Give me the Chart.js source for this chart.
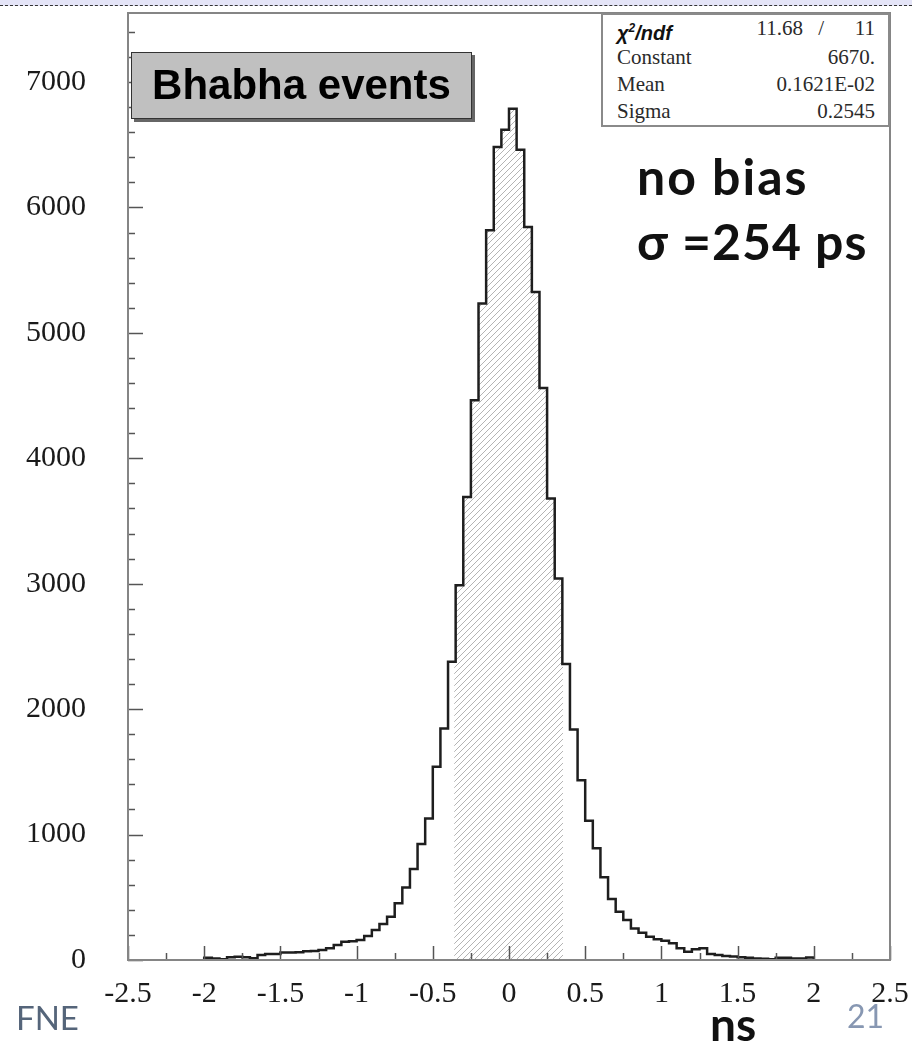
<!DOCTYPE html>
<html>
<head>
<meta charset="utf-8">
<script src="https://cdn.jsdelivr.net/npm/chart.js@4.4.1/dist/chart.umd.min.js"></script>
<style>
  html, body { margin: 0; padding: 0; background: #fff; }
  #wrap { position: relative; width: 912px; height: 1047px; overflow: hidden; }
  #plot { position: absolute; left: 0; top: 0; }
  .topband { position: absolute; left: 0; top: 0; width: 912px; height: 5px; background: #e4e4f7; border-bottom: 1.5px dashed #333; }
  .stats { position: absolute; left: 601px; top: 13px; width: 289px; height: 114px; box-sizing: border-box;
           background: #fff; border: 2px solid #8a8a8a; font-family: 'Liberation Serif', serif; font-size: 21px; color: #2a2a2a; }
  .stats .row { position: absolute; left: 14px; right: 13px; height: 24px; line-height: 24px; }
  .stats .lab { position: absolute; left: 0; }
  .stats .val { position: absolute; right: 0; }
  .stats .chi { font-family: 'Liberation Sans', sans-serif; font-weight: bold; font-style: italic; font-size: 20px; color: #111; }
  .stats .chi sup { font-size: 12px; }
  .bhabha { position: absolute; left: 131px; top: 52px; width: 341px; height: 67px; box-sizing: border-box;
            background: #c0c0c0; border: 1.5px solid #333; box-shadow: 3px 3px 0 #666;
            font-family: 'Liberation Sans', sans-serif; font-weight: bold; font-size: 42px; line-height: 64px; text-align: center; color: #000; }
  .note { position: absolute; font-family: Lato, sans-serif; font-weight: bold; line-height: 1; color: #111; white-space: nowrap; }
</style>
</head>
<body>
<div id="wrap">
  <canvas id="plot" width="912" height="1047"></canvas>
  <div class="topband"></div>
  <div class="stats">
    <div class="row" style="top:1px"><span class="lab chi">χ<sup>2</sup>/ndf</span>
      <span class="val" style="right:72px">11.68</span><span class="val" style="right:51px">/</span><span class="val">11</span></div>
    <div class="row" style="top:30px"><span class="lab">Constant</span><span class="val">6670.</span></div>
    <div class="row" style="top:57px"><span class="lab">Mean</span><span class="val">0.1621E-02</span></div>
    <div class="row" style="top:84px"><span class="lab">Sigma</span><span class="val">0.2545</span></div>
  </div>
  <div class="bhabha">Bhabha events</div>
  <div class="note" style="left:637px; top:151px; font-size:50px; letter-spacing:2px;">no bias</div>
  <div class="note" style="left:637px; top:216px; font-size:50px; letter-spacing:1px;">σ =254 ps</div>
  <div class="note" style="left:710px; top:1001px; font-size:46px;">ns</div>
  <div class="note" style="left:847px; top:1000px; font-size:32px; font-weight:normal; color:#8797b2;">21</div>
  <div class="note" style="left:16px; top:1001px; font-size:33px; font-weight:normal; color:#55657a;">FNE</div>
</div>
<script>
// histogram: bins of 0.05 ns from -2 to 2
const binStart = -2.0;
const binWidth = 0.05;
const counts = [
  17, 12, 5, 21, 26, 21, 14, 40, 48, 48,
  60, 60, 62, 70, 72, 80, 93, 120, 145, 150,
  160, 191, 239, 287, 345, 452, 579, 725, 924, 1129,
  1540, 1845, 2377, 2988, 3692, 4462, 5233, 5817, 6481, 6619,
  6786, 6460, 5843, 5325, 4560, 3679, 3041, 2359, 1838, 1434,
  1110, 890, 659, 486, 385, 319, 252, 218, 186, 165,
  154, 133, 93, 66, 85, 93, 48, 40, 32, 27,
  21, 17, 12, 10, 5, 17, 17, 12, 12, 20
];
// shaded fit range
const hatchFrom = -0.36;
const hatchTo = 0.355;

const xTickValues = [-2.5, -2, -1.5, -1, -0.5, 0, 0.5, 1, 1.5, 2, 2.5];
const xTickLabels = ['-2.5', '-2', '-1.5', '-1', '-0.5', '0', '0.5', '1', '1.5', '2', '2.5'];
const yTickValues = [0, 1000, 2000, 3000, 4000, 5000, 6000, 7000];
const yTickLabels = ['0', '1000', '2000', '3000', '4000', '5000', '6000', '7000'];
const xMin = -2.5, xMax = 2.5, yMin = 0, yMax = 7550;

function stepPoints(from, to, closeToZero) {
    const pts = [];
    let last = 0;
    if (closeToZero) pts.push({ x: from, y: 0 });
    for (let i = 0; i < counts.length; i++) {
        const lo = binStart + i * binWidth;
        const hi = lo + binWidth;
        if (hi <= from + 1e-9 || lo >= to - 1e-9) continue;
        pts.push({ x: Math.max(lo, from), y: counts[i] });
        last = counts[i];
    }
    pts.push({ x: to, y: closeToZero ? 0 : last });
    return pts;
}

function makeHatch() {
    const c = document.createElement('canvas');
    c.width = 6; c.height = 6;
    const g = c.getContext('2d');
    g.strokeStyle = '#b4b4b4';
    g.lineWidth = 1;
    g.beginPath();
    g.moveTo(0, 6); g.lineTo(6, 0);
    g.moveTo(-3, 3); g.lineTo(3, -3);
    g.moveTo(3, 9); g.lineTo(9, 3);
    g.stroke();
    return g.createPattern(c, 'repeat');
}

// ROOT style frame with ticks pointing inwards
const frameAndTicks = {
    id: 'frameAndTicks',
    afterDatasetsDraw(chart) {
        const { ctx, chartArea: a, scales: { x, y } } = chart;
        ctx.save();
        ctx.strokeStyle = '#555';
        ctx.lineWidth = 1.5;
        for (let k = 0; k <= 20; k++) {
            const v = xMin + k * 0.25;
            const px = Math.round(x.getPixelForValue(v)) + 0.5;
            ctx.beginPath();
            ctx.moveTo(px, a.bottom);
            ctx.lineTo(px, a.bottom - (k % 2 === 0 ? 14 : 7));
            ctx.stroke();
        }
        for (let v = 0; v <= yMax; v += 200) {
            const py = Math.round(y.getPixelForValue(v)) + 0.5;
            ctx.beginPath();
            ctx.moveTo(a.left, py);
            ctx.lineTo(a.left + (v % 1000 === 0 ? 15 : 7), py);
            ctx.stroke();
        }
        ctx.strokeStyle = '#858585';
        ctx.lineWidth = 2;
        ctx.strokeRect(a.left, a.top, a.right - a.left, a.bottom - a.top);
        ctx.restore();
    }
};

const tickFont = { family: "'Liberation Serif', serif", size: 30 };

new Chart(document.getElementById('plot'), {
    type: 'line',
    data: {
        datasets: [{
            data: stepPoints(binStart, binStart + counts.length * binWidth, true),
            stepped: 'before',
            borderColor: '#1e1e1e',
            borderWidth: 2.5,
            pointRadius: 0,
            fill: false,
            order: 0
        }, {
            data: stepPoints(hatchFrom, hatchTo, false),
            stepped: 'before',
            borderWidth: 0,
            borderColor: 'rgba(0,0,0,0)',
            backgroundColor: makeHatch(),
            pointRadius: 0,
            fill: 'origin',
            order: 1
        }]
    },
    options: {
        responsive: false,
        animation: false,
        devicePixelRatio: 1,
        layout: { padding: { left: 0, right: 22, top: 13, bottom: 0 } },
        plugins: { legend: { display: false }, tooltip: { enabled: false } },
        scales: {
            x: {
                type: 'linear', min: xMin, max: xMax,
                grid: { display: false, drawTicks: false },
                border: { display: false },
                ticks: {
                    padding: 16, font: tickFont, color: '#1a1a1a', maxRotation: 0, autoSkip: false,
                    callback: (v, i) => xTickLabels[i]
                },
                afterBuildTicks: s => { s.ticks = xTickValues.map(v => ({ value: v })); },
                afterFit: s => { s.height = 87; s.paddingLeft = 0; s.paddingRight = 0; }
            },
            y: {
                type: 'linear', min: yMin, max: yMax,
                grid: { display: false, drawTicks: false },
                border: { display: false },
                ticks: {
                    padding: 42, font: tickFont, color: '#1a1a1a',
                    callback: (v, i) => yTickLabels[i]
                },
                afterBuildTicks: s => { s.ticks = yTickValues.map(v => ({ value: v })); },
                afterFit: s => { s.width = 128; s.paddingTop = 0; s.paddingBottom = 0; }
            }
        }
    },
    plugins: [frameAndTicks]
});
</script>
</body>
</html>
